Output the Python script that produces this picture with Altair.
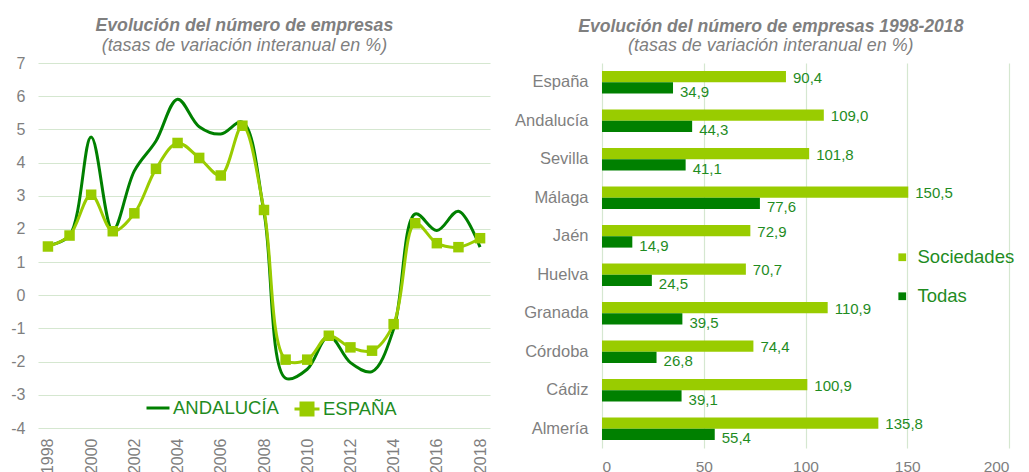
import altair as alt
import pandas as pd

# ---------------- data ----------------
years = list(range(1998, 2019))
andalucia = [1.5, 1.8, 4.77, 1.95, 3.75, 4.65, 5.91, 5.08, 4.86, 5.22, 2.5,
             -2.5, -2.23, -1.22, -2.03, -2.3, -1.02, 2.45, 1.95, 2.53, 1.45]
espana = [1.47, 1.8, 3.03, 1.93, 2.47, 3.81, 4.59, 4.14, 3.61, 5.11, 2.57,
          -1.94, -1.94, -1.22, -1.57, -1.67, -0.87, 2.17, 1.57, 1.45, 1.72]
series_names = ["ANDALUCÍA", "ESPAÑA"]

regions = ["España", "Andalucía", "Sevilla", "Málaga", "Jaén", "Huelva",
           "Granada", "Córdoba", "Cádiz", "Almería"]
sociedades = [90.4, 109.0, 101.8, 150.5, 72.9, 70.7, 110.9, 74.4, 100.9, 135.8]
todas = [34.9, 44.3, 41.1, 77.6, 14.9, 24.5, 39.5, 26.8, 39.1, 55.4]
bar_series = ["Sociedades", "Todas"]

DARK = "#008000"
LIGHT = "#99CC00"
GRAY = "#7f7f7f"
GRID = "#d5e7d0"
TXT_GREEN = "#1f8c1f"
FONT = "Liberation Sans"

# ---------------- left: line chart ----------------
df_line = pd.DataFrame(
    [{"year": y, "value": v, "series": "ANDALUCÍA"} for y, v in zip(years, andalucia)]
    + [{"year": y, "value": v, "series": "ESPAÑA"} for y, v in zip(years, espana)]
)

xq = alt.X("year:Q",
           scale=alt.Scale(domain=[1997.54, 2018.46], nice=False, zero=False),
           axis=alt.Axis(values=years[::2], format="d", labelAngle=-90, grid=False,
                         labelFontSize=16, labelPadding=10, title=None))
yq = alt.Y("value:Q",
           scale=alt.Scale(domain=[-4, 7], nice=False, zero=False),
           axis=alt.Axis(values=list(range(-4, 8)), grid=True, labelFontSize=16,
                         labelPadding=13, title=None,
                         labelExpr="'' + datum.value"))

lines = alt.Chart(df_line).mark_line(interpolate="catmull-rom", strokeWidth=3).encode(
    x=xq, y=yq,
    color=alt.Color("series:N",
                    scale=alt.Scale(domain=series_names, range=[DARK, LIGHT]),
                    legend=alt.Legend(values=["ANDALUCÍA"], orient="none",
                                      legendX=107, legendY=332, title=None,
                                      symbolType="stroke", symbolSize=529,
                                      symbolStrokeWidth=3, labelFontSize=18.5,
                                      labelColor=TXT_GREEN, labelFont=FONT,
                                      labelOffset=2, padding=0)),
)

points = alt.Chart(df_line).transform_filter(
    alt.datum.series == "ESPAÑA"
).mark_point(shape="square", filled=True, size=110, opacity=1).encode(
    x=xq, y=yq,
    fill=alt.Fill("series:N",
                  scale=alt.Scale(domain=["ESPAÑA"], range=[LIGHT]),
                  legend=alt.Legend(orient="none", legendX=255, legendY=332, title=None,
                                    symbolType="M-1,0H1M-0.48,-0.48H0.48V0.48H-0.48Z",
                                    symbolSize=625, symbolStrokeWidth=3,
                                    symbolStrokeColor=LIGHT, labelFontSize=18.5,
                                    labelColor=TXT_GREEN, labelFont=FONT,
                                    labelOffset=2, padding=0)),
)

left = alt.layer(lines, points).properties(
    width=452, height=365,
    title=alt.TitleParams(
        text="Evolución del número de empresas",
        subtitle="(tasas de variación interanual en %)",
        font=FONT, fontSize=17.7, fontStyle="italic", fontWeight="bold", color=GRAY,
        subtitleFont=FONT, subtitleFontSize=17.9, subtitleFontStyle="italic",
        subtitleColor=GRAY, subtitlePadding=2, anchor="middle", frame="bounds",
        offset=0, dx=-6),
).resolve_legend(color="independent", fill="independent")

# ---------------- right: bar chart ----------------
df_bar = pd.DataFrame(
    [{"region": r, "serie": "Sociedades", "value": v} for r, v in zip(regions, sociedades)]
    + [{"region": r, "serie": "Todas", "value": v} for r, v in zip(regions, todas)]
)
df_bar["label"] = df_bar["value"].map(lambda v: f"{v:.1f}".replace(".", ","))

yb = alt.Y("region:N", sort=regions,
           scale=alt.Scale(paddingInner=0.41, paddingOuter=0.205),
           axis=alt.Axis(labelFontSize=16.5, labelPadding=14, grid=False, title=None))
yo = alt.YOffset("serie:N", scale=alt.Scale(domain=bar_series))
xb = alt.X("value:Q", scale=alt.Scale(domain=[0, 200], nice=False),
           axis=alt.Axis(values=[0, 50, 100, 150, 200], grid=True, labelFontSize=15.5,
                         labelPadding=11, title=None))

bars = alt.Chart(df_bar).mark_bar().encode(
    y=yb, yOffset=yo, x=xb,
    color=alt.Color("serie:N",
                    scale=alt.Scale(domain=bar_series, range=[LIGHT, DARK]),
                    legend=alt.Legend(orient="none", legendX=291, legendY=185, title=None,
                                      symbolType="square", symbolSize=60,
                                      labelFontSize=18.5, labelColor=TXT_GREEN,
                                      labelFont=FONT, labelOffset=6, rowPadding=20,
                                      padding=0)),
)

txt_soc = alt.Chart(df_bar).transform_filter(alt.datum.serie == "Sociedades").mark_text(
    align="left", baseline="middle", dx=7, dy=1, fontSize=15, font=FONT, color=TXT_GREEN
).encode(y=yb, yOffset=yo, x=xb, text="label:N")

txt_tod = alt.Chart(df_bar).transform_filter(alt.datum.serie == "Todas").mark_text(
    align="left", baseline="middle", dx=7, dy=4, fontSize=15, font=FONT, color=TXT_GREEN
).encode(y=yb, yOffset=yo, x=xb, text="label:N")

right = alt.layer(bars, txt_soc, txt_tod).properties(
    width=407, height=385,
    title=alt.TitleParams(
        text="Evolución del número de empresas 1998-2018",
        subtitle="(tasas de variación interanual en %)",
        font=FONT, fontSize=17.6, fontStyle="italic", fontWeight="bold", color=GRAY,
        subtitleFont=FONT, subtitleFontSize=17.9, subtitleFontStyle="italic",
        subtitleColor=GRAY, subtitlePadding=2, anchor="middle", frame="bounds",
        offset=8, dx=6),
)

chart = alt.hconcat(left, right, spacing=112, bounds="flush").resolve_scale(
    color="independent", fill="independent", y="independent", x="independent",
    yOffset="independent"
).resolve_legend(color="independent", fill="independent").properties(
    padding={"left": 2, "top": 9, "right": 0, "bottom": 0}
).configure_axis(
    labelFont=FONT, labelColor=GRAY, gridColor=GRID, gridWidth=1.2,
    domain=False, ticks=False,
).configure_view(stroke=None).configure_legend(padding=0)

chart.save("out.html", embed_options={"renderer": "svg", "actions": False})
